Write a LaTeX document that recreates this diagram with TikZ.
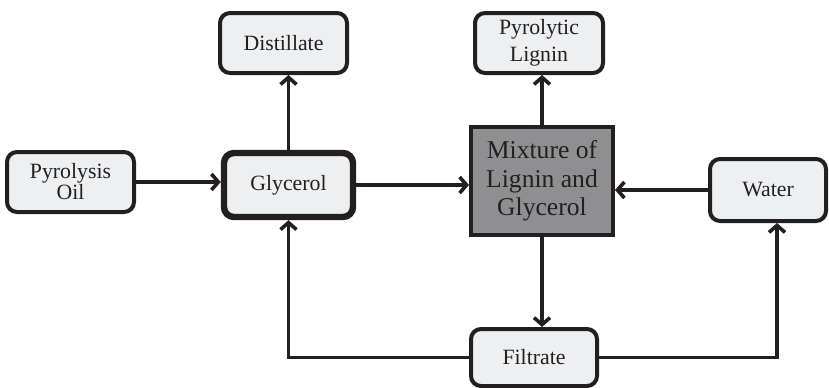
\documentclass[tikz,border=0pt]{standalone}
\usepackage{fontspec}
\setmainfont{Liberation Serif}
\newfontfamily\boxfont{Liberation Serif}
\usepackage{tikz}
\usepackage{xcolor}
\usetikzlibrary{arrows.meta, positioning, calc}
\definecolor{FlowInk}{HTML}{231F20}
\definecolor{FlowPale}{HTML}{EEEFF1}
\definecolor{FlowGrey}{HTML}{8F8F91}
\tikzset{
    % Node styles - rounded process boxes
    streambox/.style={
        rectangle,
        rounded corners=5pt,
        draw=FlowInk,
        fill=FlowPale,
        line width=2pt,
        text=FlowInk,
        align=center,
        inner sep=0pt,
        font=\boxfont\fontsize{10.9}{13.5}\selectfont
    },
    mainbox/.style={
        streambox,
        line width=3.2pt
    },
    mixbox/.style={
        rectangle,
        draw=FlowInk,
        fill=FlowGrey,
        line width=2pt,
        text=FlowInk,
        align=center,
        inner sep=0pt,
        font=\boxfont\fontsize{12.8}{14.3}\selectfont
    },
    % Arrow styles
    flowarrow/.style={
        -{Straight Barb[length=3.5pt,width=8pt,line width=1.8pt]},
        line width=1.8pt,
        FlowInk
    }
}

\begin{document}
\begin{tikzpicture}[x=0.5pt, y=-0.5pt]
    \useasboundingbox (0,0) rectangle (829,387);

    % Boxes
    \node[streambox,minimum width=63.5pt,minimum height=30pt,font=\boxfont\fontsize{10.9}{10.5}\selectfont] (oil) at (70.5,182) {Pyrolysis\\Oil};
    \node[mainbox,minimum width=64.5pt,minimum height=32pt] (gly) at (288.5,185) {Glycerol};
    \node[streambox,minimum width=63.5pt,minimum height=30pt] (dist) at (283.5,43) {Distillate};
    \node[streambox,minimum width=64pt,minimum height=30pt] (lig) at (539,43) {Pyrolytic\\Lignin};
    \node[mixbox,minimum width=71pt,minimum height=54pt] (mix) at (542,181) {Mixture of\\Lignin and\\Glycerol};
    \node[streambox,minimum width=58pt,minimum height=31pt] (water) at (768,190) {Water};
    \node[streambox,minimum width=63pt,minimum height=28.5pt] (filt) at (534,357.5) {Filtrate};

    % Arrows
    \draw[flowarrow] (oil.east) -- (oil.east -| gly.west);
    \draw[flowarrow] (gly.north) -- (gly.north |- dist.south);
    \draw[flowarrow] (gly.east) -- (gly.east -| mix.west);
    \draw[flowarrow] (mix.north) -- (mix.north |- lig.south);
    \draw[flowarrow] (water.west) -- (water.west -| mix.east);
    \draw[flowarrow] (mix.south) -- (mix.south |- filt.north);

    % Recycle loops from the filtrate
    \draw[flowarrow] (filt.west) -| (gly.south);
    \draw[flowarrow] (filt.east) -| ($(water.south)+(9,0)$);
\end{tikzpicture}
\end{document}
